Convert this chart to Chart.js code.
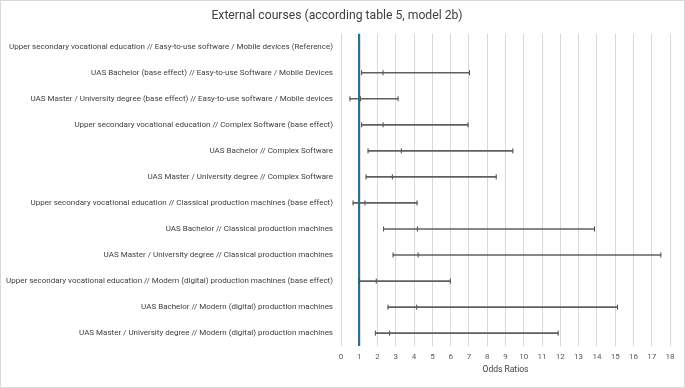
<!DOCTYPE html>
<html><head><meta charset="utf-8">
<script src="https://cdn.jsdelivr.net/npm/chart.js@4/dist/chart.umd.min.js"></script>
<style>
html,body{margin:0;padding:0;background:#fff}
#wrap{width:683px;height:386px;border:1px solid #d9d9d9;position:relative}
</style></head>
<body><div id="wrap"><canvas id="c"></canvas></div>
<script>
const categories = [
  "Upper secondary vocational education // Easy-to-use software / Mobile devices (Reference)",
  "UAS Bachelor (base effect) // Easy-to-use Software / Mobile Devices",
  "UAS Master / University degree (base effect) // Easy-to-use software / Mobile devices",
  "Upper secondary vocational education // Complex Software (base effect)",
  "UAS Bachelor // Complex Software",
  "UAS Master / University degree // Complex Software",
  "Upper secondary vocational education // Classical production machines (base effect)",
  "UAS Bachelor // Classical production machines",
  "UAS Master / University degree // Classical production machines",
  "Upper secondary vocational education // Modern (digital) production machines (base effect)",
  "UAS Bachelor // Modern (digital) production machines",
  "UAS Master / University degree // Modern (digital) production machines"
];
const oddsRatios = [null, 2.30, 1.06, 2.30, 3.30, 2.81, 1.31, 4.18, 4.22, 1.93, 4.14, 2.66];
const lowerCI    = [null, 1.13, 0.49, 1.13, 1.48, 1.37, 0.66, 2.33, 2.85, 1.00, 2.57, 1.88];
const upperCI    = [null, 7.03, 3.12, 6.95, 9.40, 8.49, 4.16, 13.87, 17.50, 5.98, 15.13, 11.88];
const xTicks = [0,1,2,3,4,5,6,7,8,9,10,11,12,13,14,15,16,17,18];
const referenceValue = 1;

const FONT = "Roboto";
const barColor = "#5f5f5f";
const capColor = "#3f3f3f";

const capDataset = (label, values) => ({
  type: "line",
  label,
  indexAxis: "y",
  data: values,
  showLine: false,
  pointStyle: "line",
  pointRotation: 90,
  pointRadius: 2.5,
  pointHoverRadius: 2.5,
  pointBorderWidth: 1,
  borderColor: capColor,
  backgroundColor: capColor,
  pointBorderColor: capColor
});

new Chart(document.getElementById("c"), {
  type: "bar",
  data: {
    labels: categories,
    datasets: [
      {
        type: "bar",
        label: "CI",
        data: categories.map((c, i) => lowerCI[i] == null ? null : [lowerCI[i], upperCI[i]]),
        backgroundColor: barColor,
        borderWidth: 0,
        barThickness: 1
      },
      capDataset("Lower", lowerCI),
      capDataset("Odds ratio", oddsRatios),
      capDataset("Upper", upperCI)
    ]
  },
  options: {
    indexAxis: "y",
    responsive: true,
    maintainAspectRatio: false,
    animation: false,
    layout: { padding: { top: 2, right: 14, bottom: 12, left: 3 } },
    plugins: {
      legend: { display: false },
      tooltip: { enabled: false },
      title: {
        display: true,
        text: "External courses (according table 5, model 2b)",
        color: "#404040",
        font: { family: FONT, size: 12.2, weight: "normal" },
        padding: { top: 6, bottom: 10 }
      }
    },
    scales: {
      x: {
        type: "linear",
        min: 0,
        max: 18,
        afterBuildTicks: (s) => { s.ticks = xTicks.map(v => ({ value: v })); },
        grid: {
          drawTicks: false,
          color: (ctx) => ctx.tick && ctx.tick.value === referenceValue ? "#2c6f96" : "#d9d9d9",
          lineWidth: (ctx) => ctx.tick && ctx.tick.value === referenceValue ? 2.2 : 1
        },
        border: { display: false },
        ticks: { color: "#595959", font: { family: FONT, size: 8 }, padding: 6, autoSkip: false, maxRotation: 0 },
        title: { display: true, text: "Odds Ratios", color: "#404040", font: { family: FONT, size: 8.5 }, padding: { top: -3, bottom: 0 } }
      },
      y: {
        type: "category",
        afterFit: (s) => { s.width = 337; },
        grid: { display: false, drawTicks: false },
        border: { display: false },
        ticks: { color: "#404040", font: { family: FONT, size: 8 }, padding: 8, autoSkip: false }
      }
    }
  }
});
</script>
</body></html>
